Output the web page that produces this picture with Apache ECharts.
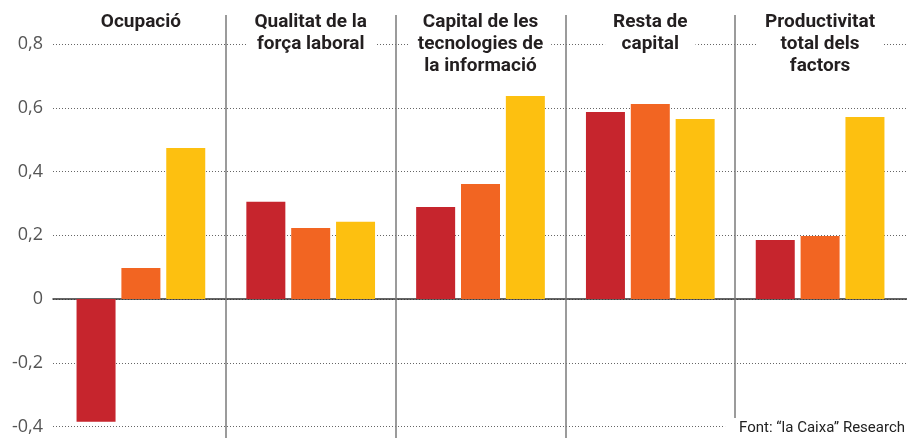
<!DOCTYPE html>
<html><head><meta charset="utf-8">
<script src="https://cdn.jsdelivr.net/npm/echarts@6/dist/echarts.min.js"></script>
<style>html,body{margin:0;padding:0;background:#fff}#c{width:907px;height:438px}</style>
</head><body><div id="c"></div>
<script>
const categories = ["Ocupació", "Qualitat de la\nforça laboral", "Capital de les\ntecnologies de\nla informació", "Resta de\ncapital", "Productivitat\ntotal dels\nfactors"];
const seriesRed = [-0.385, 0.305, 0.289, 0.587, 0.185];
const seriesOrange = [0.097, 0.223, 0.361, 0.612, 0.198];
const seriesYellow = [0.474, 0.242, 0.637, 0.565, 0.571];
const yTicks = [-0.4, 0.8, 0.2];
const sourceText = "Font: “la Caixa” Research";

const chart = echarts.init(document.getElementById('c'), null, {renderer: 'canvas'});
const bar = (name, data, color) => ({
  name, type: 'bar', data, xAxisIndex: 1, yAxisIndex: 1,
  barWidth: 39, barGap: '15%', itemStyle: {color}, z: 3
});
chart.setOption({
  animation: false,
  backgroundColor: '#fff',
  title: {
    text: sourceText, right: 0, bottom: 0,
    backgroundColor: '#fff', padding: [3, 2, 2, 14], z: 20,
    textStyle: {fontFamily: 'Roboto', fontWeight: 'normal', fontSize: 15, color: '#222'}
  },
  grid: [
    {left: 53, right: 0, top: 44, bottom: 11.5},
    {left: 56, right: 2, top: 44, bottom: 11.5},
    {left: 56, right: 2, top: 15, bottom: 0},
    {left: 56, right: 2, top: 11, bottom: 0}
  ],
  xAxis: [
    {gridIndex: 0, type: 'category', data: categories, axisLabel: {show: false}, axisTick: {show: false},
     axisLine: {show: true, onZero: true, lineStyle: {color: '#333', width: 1.5}}, z: 2},
    {gridIndex: 1, type: 'category', data: categories, show: false},
    {gridIndex: 2, type: 'category', data: categories, axisLabel: {show: false}, axisTick: {show: false}, axisLine: {show: false},
     splitLine: {show: true, showMinLine: false, showMaxLine: false, lineStyle: {color: '#7a7a7a', width: 1.5}}, z: 4},
    {gridIndex: 3, type: 'category', data: categories, position: 'top', axisTick: {show: false}, axisLine: {show: false},
     splitLine: {show: false}, z: 10,
     axisLabel: {inside: true, margin: 0, verticalAlign: 'top', lineHeight: 22, fontFamily: 'Roboto',
       fontWeight: 'bold', fontSize: 19, color: '#231f20', backgroundColor: '#fff', padding: [0, 8], interval: 0}}
  ],
  yAxis: [
    {gridIndex: 0, type: 'value', min: yTicks[0], max: yTicks[1], interval: yTicks[2],
     axisLine: {show: false}, axisTick: {show: false},
     axisLabel: {margin: 10, fontFamily: 'Open Sans', fontSize: 18, color: '#555',
       formatter: v => (Math.round(v * 10) / 10).toString().replace('.', ',')},
     splitLine: {show: true, lineStyle: {type: [1, 2], color: '#666', width: 1}}},
    {gridIndex: 1, type: 'value', min: yTicks[0], max: yTicks[1], interval: yTicks[2], show: false},
    {gridIndex: 2, type: 'value', min: 0, max: 1, show: false},
    {gridIndex: 3, type: 'value', min: 0, max: 1, show: false}
  ],
  series: [
    bar('A', seriesRed, '#c6252d'),
    bar('B', seriesOrange, '#f26522'),
    bar('C', seriesYellow, '#fdc010')
  ]
});
</script></body></html>
